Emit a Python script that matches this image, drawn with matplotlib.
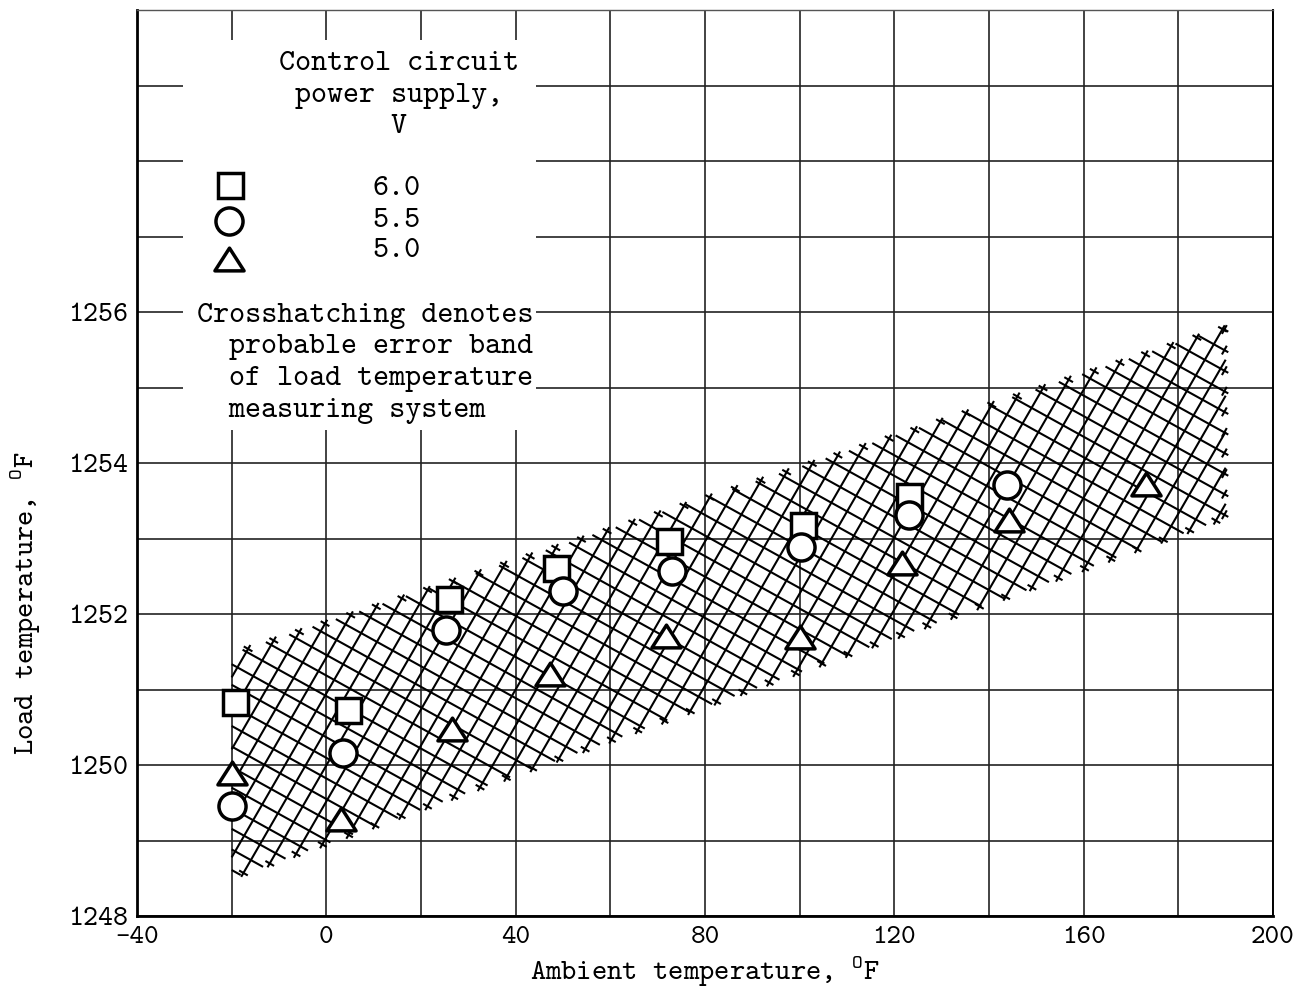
import numpy as np
import matplotlib
matplotlib.use("Agg")
import matplotlib.pyplot as plt
from matplotlib.path import Path
from matplotlib.patches import Rectangle
from matplotlib.collections import LineCollection

plt.rcParams['font.family'] = ['cmtt10', 'Liberation Mono', 'DejaVu Sans Mono']
plt.rcParams['mathtext.fontset'] = 'custom'
plt.rcParams['mathtext.rm'] = 'cmtt10'
plt.rcParams['axes.unicode_minus'] = False

# Puntos medidos (temperatura ambiente, temperatura de carga)
sq_x = [-19.3, 4.6, 25.9, 48.6, 72.4, 100.8, 123.0]
sq_y = [1250.83, 1250.73, 1252.2, 1252.61, 1252.97, 1253.18, 1253.56]
ci_x = [-20.0, 3.5, 25.2, 50.0, 73.1, 100.3, 123.0, 143.8]
ci_y = [1249.46, 1250.16, 1251.79, 1252.3, 1252.57, 1252.89, 1253.31, 1253.71]
tr_x = [-20.0, 3.2, 26.6, 47.2, 71.7, 100.0, 121.6, 144.2, 173.1]
tr_y = [1249.89, 1249.28, 1250.48, 1251.21, 1251.71, 1251.69, 1252.68, 1253.24, 1253.72]

# Banda de error probable
band_x = [-20, 190]
band_lo = [1248.5, 1253.27]
band_hi = [1251.48, 1255.8]

volts = ["6.0", "5.5", "5.0"]
note = ["Crosshatching denotes", "  probable error band",
        "  of load temperature", "  measuring system"]

W, H = 1309, 991
L, R, T, B = 137, 1273, 10, 916

fig = plt.figure(figsize=(W / 100, H / 100), dpi=100)
ax = fig.add_axes([L / W, (H - B) / H, (R - L) / W, (B - T) / H])
ax.set_xlim(-40, 200)
ax.set_ylim(1248, 1260)

ax.set_xticks(np.arange(-40, 201, 40))
ax.set_xticks(np.arange(-40, 201, 20), minor=True)
ax.set_yticks([1248, 1250, 1252, 1254, 1256])
ax.set_yticks(np.arange(1248, 1261, 1), minor=True)
ax.tick_params(which='both', length=0)
ax.tick_params(axis='x', labelsize=20, pad=7)
ax.tick_params(axis='y', labelsize=20.5, pad=6.5)
ax.set_axisbelow(True)
ax.grid(which='both', color='#222222', lw=1.2)

for s in ['left', 'bottom']:
    ax.spines[s].set_linewidth(2)
ax.spines['right'].set_linewidth(1.4)
ax.spines['top'].set_linewidth(1.0)
ax.spines['top'].set_color('#555555')


def px(x, y):
    return ((x - L) / (R - L), (B - y) / (B - T))


# cuadro blanco de la leyenda
x0, y0 = px(183, 430)
x1, y1 = px(536, 40)
ax.add_patch(Rectangle((x0, y0), x1 - x0, y1 - y0, transform=ax.transAxes,
                       facecolor='white', edgecolor='none', zorder=1))

# rayado cruzado de la banda, en pixeles
corners = np.column_stack([[band_x[0], band_x[1], band_x[1], band_x[0]],
                           [band_hi[0], band_hi[1], band_lo[1], band_lo[0]]])
P = ax.transData.transform(corners)


def cut(n, c):
    hits = []
    for k in range(4):
        a, b = P[k], P[(k + 1) % 4]
        fa, fb = n @ a - c, n @ b - c
        if fa != fb and fa * fb <= 0:
            s = fa / (fa - fb)
            p = a + s * (b - a)
            if all(np.hypot(*(p - h[0])) > 0.5 for h in hits):
                hits.append((p, k))
    return hits


def family(angle, step, tick_edges):
    d = np.array([np.cos(angle), np.sin(angle)])
    n = np.array([-d[1], d[0]])
    proj = P @ n
    segs, ticks = [], []
    for c in np.arange(proj.min() + 0.4 * step, proj.max(), step):
        hits = cut(n, c)
        if len(hits) < 2:
            continue
        (p, ep), (q, eq) = hits[:2]
        u = (p - q) / np.hypot(*(p - q))
        pe, qe = p.copy(), q.copy()
        if ep in tick_edges:
            pe = p + 3 * u
            m = p - 1.5 * u
            ticks.append([m - 5 * n, m + 5 * n])
        if eq in tick_edges:
            qe = q - 3 * u
            m = q + 1.5 * u
            ticks.append([m - 5 * n, m + 5 * n])
        segs.append([pe, qe])
    return segs + ticks


inv = ax.transData.inverted()
lines = family(np.radians(60), 18, (0, 2)) + family(np.radians(-29), 18, (1,))
lines = [inv.transform(np.array(s)) for s in lines]
ax.add_collection(LineCollection(lines, colors='black', linewidths=1.5, zorder=2))

# marcadores
tri = Path([(0, 0.78), (-1, -0.78), (1, -0.78), (0, 0.78)],
           [Path.MOVETO, Path.LINETO, Path.LINETO, Path.CLOSEPOLY])
mk = dict(ls='none', mfc='white', mec='black', mew=2.5, zorder=3)
ax.plot(sq_x, sq_y, marker='s', ms=18, **mk)
ax.plot(ci_x, ci_y, marker='o', ms=19.5, **mk)
ax.plot(tr_x, tr_y, marker=tri, ms=21, **mk)

# leyenda
lk = dict(transform=ax.transAxes, clip_on=False)
ax.plot(*px(230, 185), marker='s', ms=18, **mk, **lk)
ax.plot(*px(229, 221), marker='o', ms=19.5, **mk, **lk)
ax.plot(*px(229, 259), marker=tri, ms=21, **mk, **lk)

tk = dict(transform=ax.transAxes, fontsize=22, va='baseline', zorder=4)
ax.text(*px(399, 70), "Control circuit", ha='center', **tk)
ax.text(*px(399, 102), "power supply,", ha='center', **tk)
ax.text(*px(398, 133), "V", ha='center', **tk)
for v, yb in zip(volts, [195, 227, 257]):
    ax.text(*px(397, yb), v, ha='center', **tk)
for line, yb in zip(note, [322, 353, 385, 417]):
    ax.text(*px(197, yb), line, ha='left', **tk)

ax.set_xlabel("Ambient temperature, $^{\\rm O}$F", fontsize=21, va='center')
ax.xaxis.set_label_coords(0.5, (B - 972) / (B - T))
ax.set_ylabel("Load temperature, $^{\\rm O}$F", fontsize=21, va='center')
ax.yaxis.set_label_coords((26 - L) / (R - L), (B - 603) / (B - T))

fig.savefig("out.png", dpi=100)
